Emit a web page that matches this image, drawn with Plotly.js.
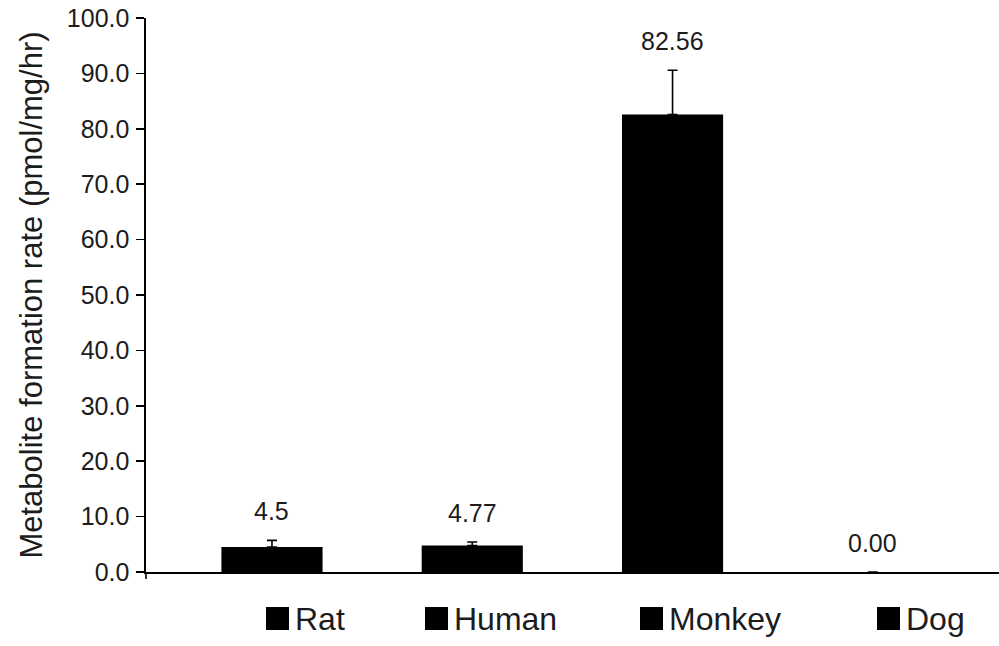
<!DOCTYPE html>
<html>
<head>
<meta charset="utf-8">
<script src="https://cdn.plot.ly/plotly-3.0.1.min.js"></script>
<style>
  html, body { margin: 0; padding: 0; background: #fff; }
  #chart { width: 999px; height: 646px; }
</style>
</head>
<body>
<div id="chart"></div>
<script>
// Metabolite formation rate by species (mean with upper error bar)
const species = ['Rat', 'Human', 'Monkey', 'Dog'];
const rates = [4.5, 4.77, 82.56, 0.0];
const errorPlus = [1.2, 0.65, 8.0, 0.0];
const valueLabels = ['4.5', '4.77', '82.56', '0.00'];

// Figure geometry (pixels)
const W = 999, H = 646;
const M = { l: 146, r: 0, t: 18, b: 74 };
const plotW = W - M.l - M.r;
const plotH = H - M.t - M.b;
const px2x = p => (p - M.l) / plotW;
const px2y = p => (H - M.b - p) / plotH;

const FONT = '"Liberation Sans", Arial, Helvetica, sans-serif';
const INK = '#1c1c1c';

const trace = {
  type: 'bar',
  x: species,
  y: rates,
  width: 0.505,
  marker: { color: '#000000', line: { width: 0 } },
  error_y: {
    type: 'data',
    symmetric: false,
    array: errorPlus,
    arrayminus: rates.map(() => 0),
    color: '#000000',
    thickness: 1.6,
    width: 5
  },
  hoverinfo: 'skip',
  showlegend: false
};

// Value labels above each bar / error bar
const annotations = species.map((s, i) => ({
  x: s, y: rates[i] + errorPlus[i],
  xref: 'x', yref: 'y',
  text: valueLabels[i],
  showarrow: false,
  xanchor: 'center', yanchor: 'bottom',
  yshift: 13,
  font: { family: FONT, size: 25, color: INK }
}));

// Key beneath the axis: black square + species name
const keyLeft = [266, 425, 640, 877];
const keySize = 23;
const keyTop = 607;
const shapes = [];
species.forEach((s, i) => {
  shapes.push({
    type: 'rect', xref: 'paper', yref: 'paper',
    x0: px2x(keyLeft[i]), x1: px2x(keyLeft[i] + keySize),
    y0: px2y(keyTop + keySize), y1: px2y(keyTop),
    fillcolor: '#000000', line: { width: 0 }
  });
  annotations.push({
    xref: 'paper', yref: 'paper',
    x: px2x(keyLeft[i] + keySize + 4), y: px2y(keyTop + keySize / 2),
    xanchor: 'left', yanchor: 'middle',
    text: s, showarrow: false,
    font: { family: FONT, size: 32, color: INK }
  });
});

// Short tick of the value axis running below the origin
shapes.push({
  type: 'line', xref: 'paper', yref: 'paper',
  x0: 0, x1: 0, y0: px2y(572), y1: px2y(579),
  line: { color: '#000000', width: 1.6 }
});

const layout = {
  width: W, height: H,
  margin: M,
  paper_bgcolor: '#ffffff',
  plot_bgcolor: '#ffffff',
  font: { family: FONT, color: INK },
  showlegend: false,
  xaxis: {
    type: 'category',
    range: [-0.629, 3.630],
    showline: true, linecolor: '#000000', linewidth: 1.6,
    showgrid: false, zeroline: false,
    showticklabels: false, ticks: ''
  },
  yaxis: {
    range: [0, 100],
    dtick: 10, tick0: 0,
    tickformat: '.1f',
    showline: true, linecolor: '#000000', linewidth: 1.6,
    ticks: 'outside', ticklen: 8, tickwidth: 1.6, tickcolor: '#000000',
    ticklabelstandoff: 2,
    showgrid: false, zeroline: false,
    tickfont: { family: FONT, size: 25, color: INK },
    title: {
      text: 'Metabolite formation rate (pmol/mg/hr)',
      font: { family: FONT, size: 31, color: INK },
      standoff: 15
    },
    automargin: false
  },
  shapes: shapes,
  annotations: annotations
};

Plotly.newPlot('chart', [trace], layout, { displayModeBar: false, staticPlot: true });
</script>
</body>
</html>
